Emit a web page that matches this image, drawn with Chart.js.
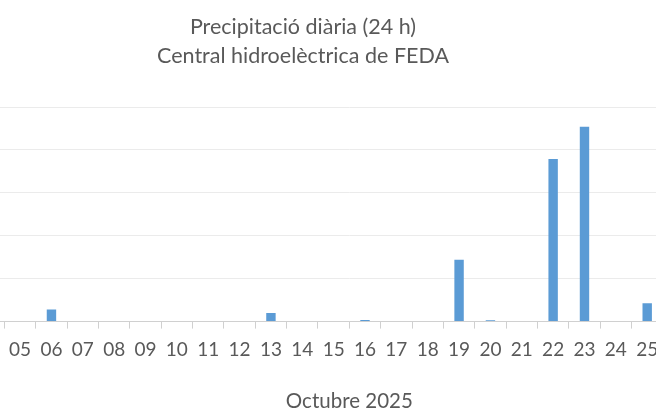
<!DOCTYPE html>
<html>
<head>
<meta charset="utf-8">
<script src="https://cdn.jsdelivr.net/npm/chart.js@4.4.1/dist/chart.umd.min.js"></script>
<style>
  html, body { margin: 0; padding: 0; background: #fff; overflow: hidden; }
  body { width: 656px; height: 420px; position: relative; }
  #wrap { position: absolute; left: -219px; top: 0; width: 1044px; height: 420px; }
</style>
</head>
<body>
<div id="wrap"><canvas id="rainChart"></canvas></div>
<script>
// dies d'octubre (01..30) i precipitacio en mm
const days = ['01','02','03','04','05','06','07','08','09','10',
              '11','12','13','14','15','16','17','18','19','20',
              '21','22','23','24','25','26','27','28','29','30'];
const rain = [0, 0, 0, 0, 0, 2.8, 0, 0, 0, 0,
              0, 0, 2.0, 0, 0, 0.4, 0, 0, 14.4, 0.3,
              0, 37.9, 45.4, 0, 4.3, 0, 0, 0, 0, 0];
const yTicks = [0, 10, 20, 30, 40, 50];

const titleLines = ['Precipitació diària (24 h)', 'Central hidroelèctrica de FEDA'];
const xTitle = 'Octubre 2025';

const grey = '#595959';
const fam = 'Lato, "Open Sans", sans-serif';

const ctx = document.getElementById('rainChart').getContext('2d');
const rainChart = new Chart(ctx, {
  type: 'bar',
  data: {
    labels: days,
    datasets: [{
      label: 'Precipitació',
      data: rain,
      backgroundColor: '#5b9bd5',
      borderWidth: 0,
      categoryPercentage: 1,
      barPercentage: 0.3
    }]
  },
  options: {
    responsive: true,
    maintainAspectRatio: false,
    animation: false,
    layout: { padding: { left: 0, right: 0, top: 0, bottom: 3 } },
    plugins: {
      legend: { display: false },
      tooltip: { enabled: false },
      title: {
        display: true,
        text: titleLines,
        color: grey,
        font: { family: fam, size: 21.5, weight: 'normal', lineHeight: 1.35 },
        padding: { top: 13, bottom: 36 }
      }
    },
    scales: {
      x: {
        grid: {
          offset: true,
          drawOnChartArea: false,
          drawTicks: true,
          tickLength: 7,
          color: '#d0d0d0'
        },
        border: { display: true, color: '#d0d0d0' },
        ticks: {
          color: grey,
          font: { family: fam, size: 19 },
          padding: 10,
          maxRotation: 0,
          autoSkip: false
        },
        title: {
          display: true,
          text: xTitle,
          color: grey,
          font: { family: fam, size: 20.5 },
          padding: { top: 18, bottom: 3 }
        }
      },
      y: {
        min: yTicks[0],
        max: yTicks[yTicks.length - 1],
        afterBuildTicks: s => { s.ticks = yTicks.map(v => ({ value: v })); },
        afterFit: s => { s.width = 98; },
        grid: {
          drawTicks: false,
          color: c => (c.tick && c.tick.value === 0) ? '#d0d0d0' : '#ebebeb'
        },
        border: { display: false },
        ticks: { color: grey, font: { family: fam, size: 17 } }
      }
    }
  }
});
</script>
</body>
</html>
